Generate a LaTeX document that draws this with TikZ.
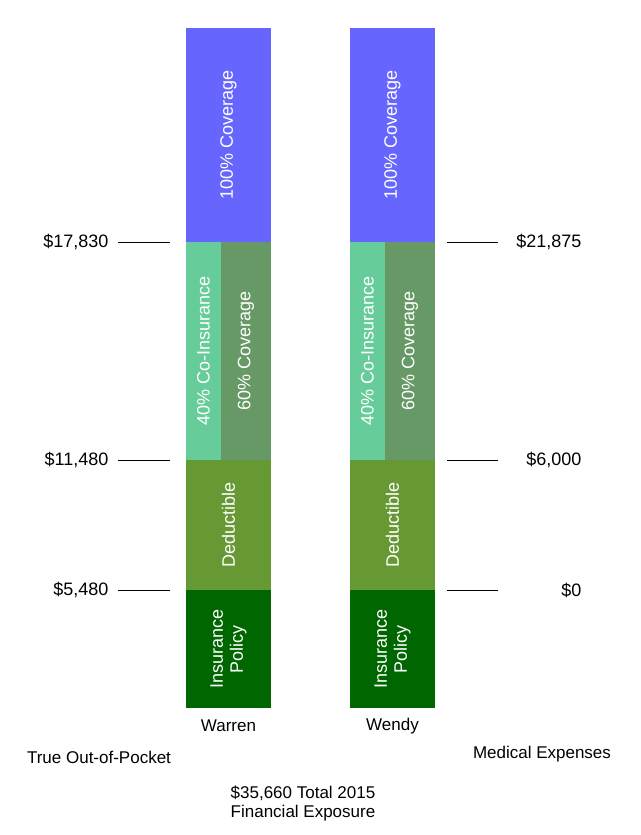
\documentclass[tikz,border=0pt]{standalone}
\usepackage{fontspec}
\setmainfont{Liberation Sans}
\definecolor{coverblue}{HTML}{6666FF}
\definecolor{coinsgreen}{HTML}{66CC99}
\definecolor{covergreen}{HTML}{669966}
\definecolor{deductgreen}{HTML}{669933}
\definecolor{policygreen}{HTML}{006600}
\tikzset{
  seg/.style={draw=none, inner sep=0, anchor=north west},
  segtext/.style={text=white, rotate=90, align=center, font=\fontsize{18}{19}\selectfont},
  amount/.style={font=\fontsize{18}{20}\selectfont},
  caption/.style={font=\fontsize{17}{19}\selectfont, align=center},
  tick/.style={draw=black, line width=0.8pt},
}
\begin{document}
\begin{tikzpicture}[x=1pt, y=-1pt]
  \useasboundingbox (0,0) rectangle (640,835);
  % two bars
  \foreach \name/\x in {warren/186, wendy/350}{
    \fill[coverblue] (\x,28) rectangle (\x+85,242);
    \fill[coinsgreen] (\x,242) rectangle (\x+35,460);
    \fill[covergreen] (\x+35,242) rectangle (\x+85,460);
    \fill[deductgreen] (\x,460) rectangle (\x+85,590);
    \fill[policygreen] (\x,590) rectangle (\x+85,708);
    \node[segtext] (\name-full) at (\x+42.5,135) {100\% Coverage};
    \node[segtext] (\name-coins) at (\x+17.5,351) {40\% Co-Insurance};
    \node[segtext] (\name-sixty) at (\x+60,351) {60\% Coverage};
    \node[segtext] (\name-deduct) at (\x+42.5,525) {Deductible};
    \node[segtext, font=\fontsize{18}{20}\selectfont] (\name-policy) at (\x+42.5,649) {Insurance\\Policy};
  }
  \node[caption] (warren) at (228.5,726) {Warren};
  \node[caption] (wendy) at (392.5,726) {Wendy};
  % left scale
  \foreach \y/\txt [count=\i] in {242/{\$17,830}, 460/{\$11,480}, 590/{\$5,480}}{
    \coordinate (la\i) at (118,\y);
    \coordinate (lb\i) at (170,\y);
    \draw[tick] (la\i) -- (lb\i);
    \node[amount, anchor=east] (left\i) at (112,\y) {\txt};
  }
  % right scale
  \foreach \y/\txt [count=\i] in {242/{\$21,875}, 460/{\$6,000}, 590/{\$0}}{
    \coordinate (ra\i) at (447,\y);
    \coordinate (rb\i) at (498,\y);
    \draw[tick] (ra\i) -- (rb\i);
    \node[amount, anchor=east] (right\i) at (585,\y) {\txt};
  }
  \node[caption] (pocket) at (99,757) {True Out-of-Pocket};
  \node[caption] (medical) at (542,754) {Medical Expenses};
  \node[caption] (exposure) at (303,803) {\$35,660 Total 2015\\Financial Exposure};
\end{tikzpicture}
\end{document}
